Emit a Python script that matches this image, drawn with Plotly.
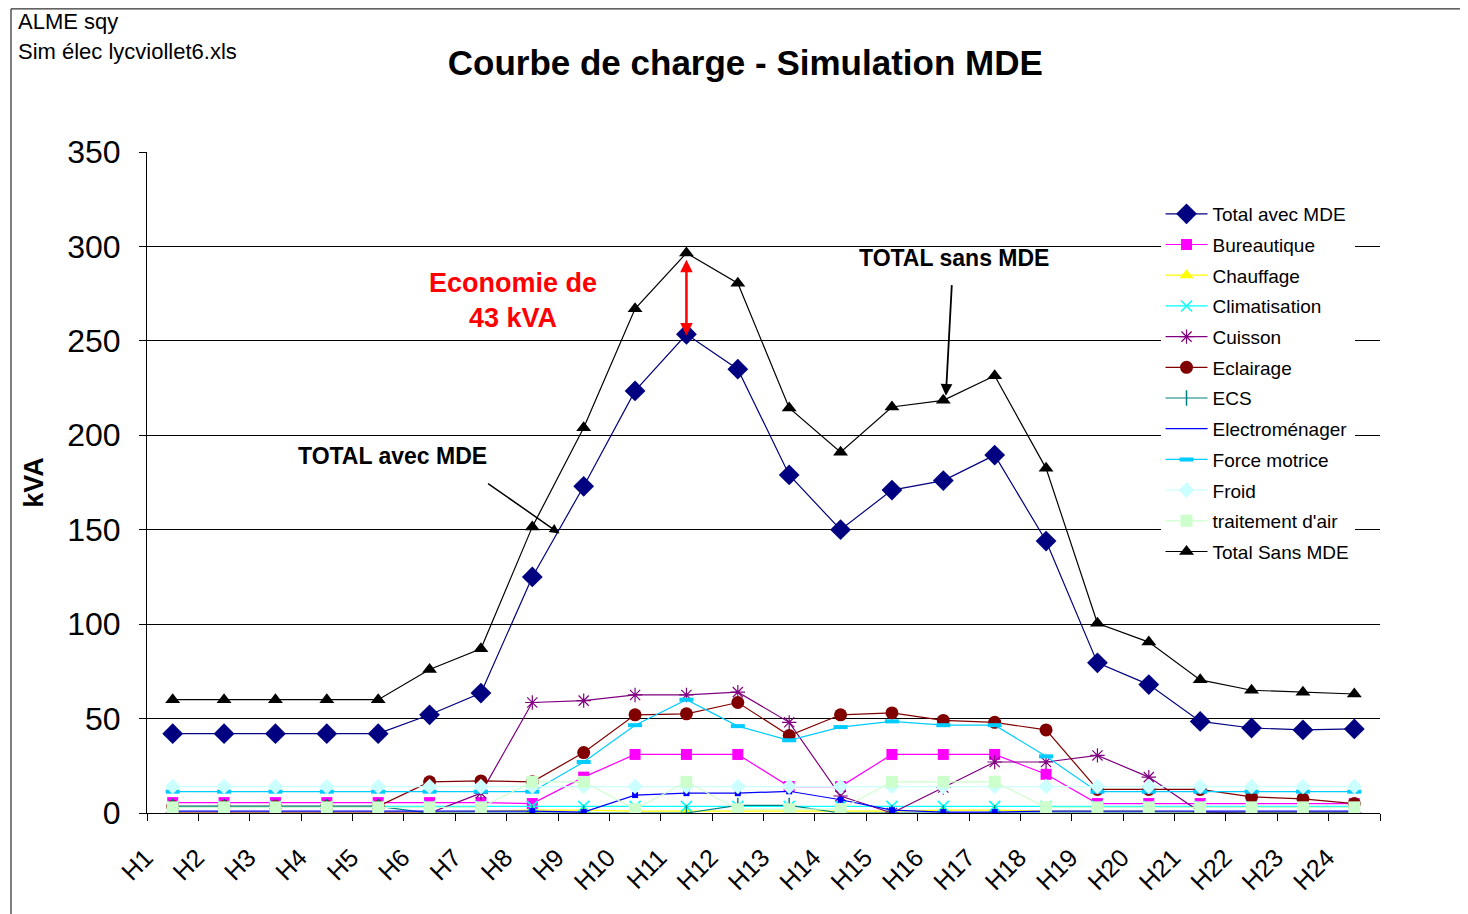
import plotly.graph_objects as go

hours = ["H1", "H2", "H3", "H4", "H5", "H6", "H7", "H8", "H9", "H10", "H11", "H12",
         "H13", "H14", "H15", "H16", "H17", "H18", "H19", "H20", "H21", "H22", "H23", "H24"]

total_avec = [42, 42, 42, 42, 42, 52, 63.5, 125, 173, 223.5, 253.5, 235, 179, 150, 171, 176,
              189.5, 144, 79.5, 68, 48.5, 45, 44, 44.5]
total_sans = [60, 60, 60, 60, 60, 76, 87, 151.5, 204, 267, 296.5, 280.5, 214.5, 191, 215, 218.5,
              231.5, 182.5, 100.5, 90.5, 70.5, 65, 64, 63]
bureautique = [5.5, 5.5, 5.5, 5.5, 5.5, 5.5, 5.5, 5, 19, 31, 31, 31, 14, 14, 31, 31, 31, 20.5,
               5, 5, 5, 5, 5, 5]
chauffage = [0.5, 0.5, 0.5, 0.5, 0.5, 0.5, 1, 1.5, 1.5, 1, 1, 1, 1, 1, 1, 1.5, 1.5, 1, 1, 1,
             0.5, 0.5, 0.5, 0.5]
climatisation = [3.5, 3.5, 3.5, 3.5, 3.5, 3.5, 3.5, 3.5, 3.5, 3.5, 3.5, 3.5, 3.5, 3.5, 3.5, 3.5,
                 3.5, 3.5, 3.5, 3.5, 3.5, 3.5, 3.5, 3.5]
cuisson = [0, 0, 0, 0, 0, 0, 10.5, 58.5, 59.5, 62.5, 62.5, 64, 48, 9, 0, 13.5, 27, 27, 30.5, 19,
           0.5, 0, 0, 0]
eclairage = [3.5, 3.5, 3.5, 3.5, 3.5, 16.5, 17, 16.5, 32, 52, 52.5, 58.5, 41, 52, 53, 49, 48, 44,
             12.5, 12.5, 12.5, 8.5, 7.5, 5]
ecs = [3.5, 3.5, 3.5, 3.5, 3.5, 0, 0, 0, 0, 0, 0, 4, 4, 0, 0, 0, 0, 0, 0, 0, 0, 0, 0, 0]
electromenager = [1, 1, 1, 1, 1, 1, 1, 1, 0.5, 9.5, 10.5, 10.5, 11.5, 7, 1.5, 0.5, 0.5, 1, 1, 1,
                  1, 1, 1, 1]
force_motrice = [11.3, 11.3, 11.3, 11.3, 11.3, 11.3, 11.3, 11.3, 27, 46.5, 60, 46, 38.5, 45.5,
                 48.5, 46.5, 46.5, 30, 11.3, 11.3, 11.3, 11.3, 11.3, 11.3]
froid = [14, 14, 14, 14, 14, 14, 14, 14, 14, 14, 14, 14, 14, 14, 14, 14, 14, 14, 14, 14, 14, 14,
         14, 14]
traitement_air = [3, 3, 3, 3, 3, 3, 3, 16.5, 16.5, 2, 16.5, 2, 2, 2, 16.5, 16.5, 16.5, 3, 3, 3,
                  3, 3, 3, 3]

y_ticks = [0, 50, 100, 150, 200, 250, 300, 350]

FONT = "Liberation Sans, Arial, sans-serif"

series = [
    ("Total avec MDE", total_avec, "#000080", dict(symbol="diamond", size=16, color="#000080")),
    ("Bureautique", bureautique, "#FF00FF", dict(symbol="square", size=11, color="#FF00FF")),
    ("Chauffage", chauffage, "#FFFF00", dict(symbol="triangle-up", size=12, color="#FFFF00")),
    ("Climatisation", climatisation, "#00FFFF",
     dict(symbol="x-thin-open", size=11, color="#00FFFF", line=dict(width=1.5, color="#00FFFF"))),
    ("Cuisson", cuisson, "#800080",
     dict(symbol="asterisk-open", size=12, color="#800080", line=dict(width=1.2, color="#800080"))),
    ("Eclairage", eclairage, "#800000", dict(symbol="circle", size=13, color="#800000")),
    ("ECS", ecs, "#008080",
     dict(symbol="line-ns-open", size=11, color="#008080", line=dict(width=1.5, color="#008080"))),
    ("Electroménager", electromenager, "#0000FF", None),
    ("Force motrice", force_motrice, "#00CCFF",
     dict(symbol="line-ew-open", size=10, color="#00CCFF", line=dict(width=4, color="#00CCFF"))),
    ("Froid", froid, "#CCFFFF", dict(symbol="diamond", size=12, color="#CCFFFF")),
    ("traitement d'air", traitement_air, "#CCFFCC", dict(symbol="square", size=12, color="#CCFFCC")),
    ("Total Sans MDE", total_sans, "#000000", dict(symbol="triangle-up", size=13, color="#000000")),
]

fig = go.Figure()
for i, (name, vals, col, mk) in enumerate(series):
    if mk is None:
        fig.add_trace(go.Scatter(x=hours, y=vals, name=name, mode="lines",
                                 line=dict(color=col, width=1.2), legendgroup=f"g{i}"))
    else:
        fig.add_trace(go.Scatter(x=hours, y=vals, name=name, mode="lines+markers",
                                 line=dict(color=col, width=1.2), marker=mk, legendgroup=f"g{i}"))
    if name == "Electroménager":
        fig.add_trace(go.Scatter(x=hours, y=vals, mode="markers", showlegend=False,
                                 marker=dict(symbol="square", size=6, color="#0000FF"),
                                 legendgroup=f"g{i}"))

annotations = [
    dict(text="ALME sqy", xref="paper", yref="paper",
         x=-0.1062, y=1.1967, xanchor="left", yanchor="middle", showarrow=False, align="left",
         font=dict(size=22, family=FONT, color="black")),
    dict(text="Sim élec lycviollet6.xls", xref="paper", yref="paper",
         x=-0.1062, y=1.1513, xanchor="left", yanchor="middle", showarrow=False, align="left",
         font=dict(size=22, family=FONT, color="black")),
    dict(text="<b>TOTAL sans MDE</b>", x=15.2, y=294, xref="x", yref="y", showarrow=False,
         font=dict(size=23, family=FONT, color="black")),
    dict(text="<b>TOTAL avec MDE</b>", x=4.28, y=189, xref="x", yref="y", showarrow=False,
         font=dict(size=23, family=FONT, color="black")),
    dict(text="<b>Economie de<br>43 kVA</b>", x=6.63, y=271.5, xref="x", yref="y",
         showarrow=False, font=dict(size=27, family=FONT, color="#FF0000")),
    dict(text="", x=15.05, y=221, xref="x", yref="y", ax=6, ay=-112, axref="pixel",
         ayref="pixel", showarrow=True, arrowhead=2, arrowsize=1.3, arrowwidth=1.8,
         arrowcolor="black"),
    dict(text="", x=7.53, y=148, xref="x", yref="y", ax=-73, ay=-51, axref="pixel",
         ayref="pixel", showarrow=True, arrowhead=2, arrowsize=1.3, arrowwidth=1.5,
         arrowcolor="black"),
    dict(text="", x=10, y=293, xref="x", yref="y", ax=10, ay=252, axref="x", ayref="y",
         showarrow=True, arrowhead=2, startarrowhead=2, arrowside="end+start", arrowsize=1,
         startarrowsize=1, arrowwidth=2.5, arrowcolor="#FF0000"),
]

fig.update_layout(
    width=1460, height=906,
    paper_bgcolor="white", plot_bgcolor="white",
    margin=dict(l=139, r=88, t=144, b=101),
    title=dict(text="<b>Courbe de charge - Simulation MDE</b>", x=0.505, xanchor="center",
               y=0.94, yanchor="middle", font=dict(size=35, family=FONT, color="black")),
    font=dict(family=FONT, color="black"),
    showlegend=True,
    legend=dict(x=0.822, y=0.935, xanchor="left", yanchor="top", bgcolor="white",
                font=dict(size=19, family=FONT, color="black"), tracegroupgap=3,
                itemwidth=42),
    annotations=annotations,
    shapes=[
        dict(type="line", xref="paper", yref="paper", x0=-0.1103, x1=-0.1103, y0=-0.16,
             y1=1.2165, line=dict(color="black", width=1)),
        dict(type="line", xref="paper", yref="paper", x0=-0.1103, x1=1.08, y0=1.2165,
             y1=1.2165, line=dict(color="black", width=1)),
    ],
)

fig.update_xaxes(type="category", tickson="boundaries", ticks="outside", ticklen=7,
                 tickcolor="black", showline=True, linecolor="black", linewidth=1,
                 showgrid=False, tickangle=-45, tickfont=dict(size=25, family=FONT),
                 ticklabelshift=-27, ticklabelstandoff=19,
                 range=[-0.5, 23.5])
fig.update_yaxes(range=[0, 350], tickvals=y_ticks, ticks="outside", ticklen=7,
                 tickcolor="black", showline=True, linecolor="black", linewidth=1,
                 showgrid=True, gridcolor="black", gridwidth=1, zeroline=False,
                 tickfont=dict(size=32, family=FONT), ticklabelstandoff=12,
                 title=dict(text="<b>kVA</b>", font=dict(size=27, family=FONT), standoff=15))

fig.write_html("out.html")
